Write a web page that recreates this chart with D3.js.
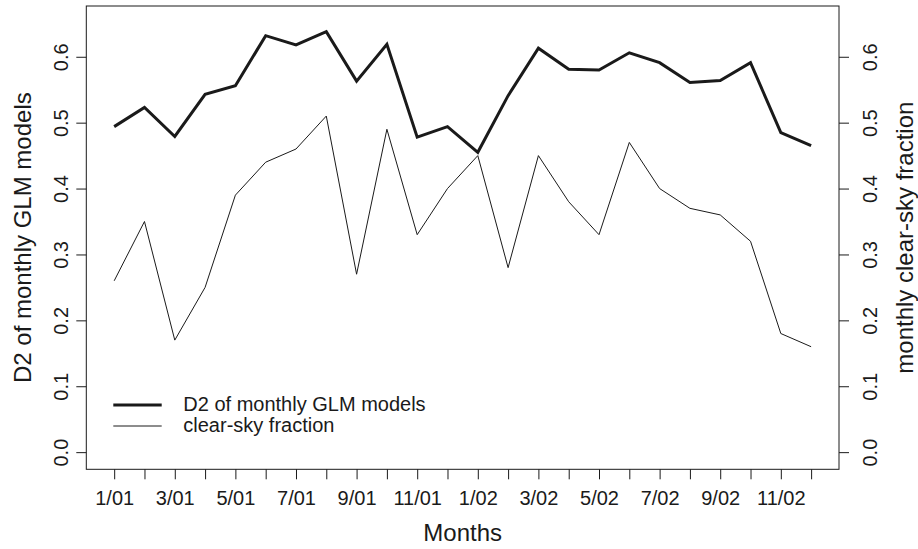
<!DOCTYPE html>
<html>
<head>
<meta charset="utf-8">
<script src="https://cdn.jsdelivr.net/npm/d3@7"></script>
<style>
  html, body { margin: 0; padding: 0; background: #fff; }
  svg { display: block; font-family: "Liberation Sans", Arial, Helvetica, sans-serif; }
</style>
</head>
<body>
<svg id="chart" width="918" height="549"></svg>
<script>
// Monthly series, Jan 2001 – Dec 2002
const months = ["1/01","2/01","3/01","4/01","5/01","6/01","7/01","8/01","9/01","10/01","11/01","12/01",
                "1/02","2/02","3/02","4/02","5/02","6/02","7/02","8/02","9/02","10/02","11/02","12/02"];
const d2Values = [0.494,0.523,0.479,0.543,0.556,0.632,0.618,0.638,0.563,0.619,0.478,0.494,
                  0.455,0.541,0.613,0.581,0.580,0.606,0.591,0.561,0.564,0.591,0.485,0.465];
const clearSky = [0.26,0.35,0.17,0.25,0.39,0.44,0.46,0.51,0.27,0.49,0.33,0.40,
                  0.45,0.28,0.45,0.38,0.33,0.47,0.40,0.37,0.36,0.32,0.18,0.16];
const yTicks = [0, 0.1, 0.2, 0.3, 0.4, 0.5, 0.6];
const seriesNames = ["D2 of monthly GLM models", "clear-sky fraction"];

const ink = "#1a1a1a";
const svg = d3.select("#chart");

// plot region
const box = { left: 86.3, right: 839, top: 6, bottom: 469.3 };

// x: month index 1..24 with a 4% pad on either side
const n = months.length;
const pad = (n - 1) * 0.04;
const x = d3.scaleLinear().domain([1 - pad, n + pad]).range([box.left, box.right]);

// y: both axes share the 0 – 0.65 range, padded by 4%
const yLo = 0, yHi = 0.651, yPad = (yHi - yLo) * 0.04;
const y = d3.scaleLinear().domain([yLo - yPad, yHi + yPad]).range([box.bottom, box.top]);

// frame
svg.append("rect")
  .attr("x", box.left).attr("y", box.top)
  .attr("width", box.right - box.left).attr("height", box.bottom - box.top)
  .attr("fill", "none").attr("stroke", ink).attr("stroke-width", 1);

// bottom axis: tick every month, label every other month
const xAxis = d3.axisBottom(x)
  .tickValues(d3.range(1, n + 1))
  .tickFormat((d, i) => (i % 2 === 0 ? months[i] : ""))
  .tickSize(10).tickSizeOuter(0);
const gx = svg.append("g").attr("transform", `translate(0,${box.bottom})`).call(xAxis);
gx.select(".domain").remove();
gx.selectAll(".tick line").attr("stroke", ink);
gx.selectAll(".tick text")
  .attr("y", null).attr("dy", null)
  .attr("transform", "translate(0,35.7)")
  .attr("fill", ink).attr("font-size", 20)
  .attr("font-family", "Liberation Sans, Arial, sans-serif");

// left axis
const yFmt = d3.format(".1f");
const yAxisL = d3.axisLeft(y).tickValues(yTicks).tickFormat(yFmt).tickSize(10).tickSizeOuter(0);
const gl = svg.append("g").attr("transform", `translate(${box.left},0)`).call(yAxisL);
gl.select(".domain").remove();
gl.selectAll(".tick line").attr("stroke", ink);
gl.selectAll(".tick text")
  .attr("x", null).attr("dy", null)
  .attr("transform", "translate(-18,0) rotate(-90)")
  .attr("text-anchor", "middle")
  .attr("fill", ink).attr("font-size", 20)
  .attr("font-family", "Liberation Sans, Arial, sans-serif");

// right axis (clear-sky fraction, same scale)
const yAxisR = d3.axisRight(y).tickValues(yTicks).tickFormat(yFmt).tickSize(10).tickSizeOuter(0);
const gr = svg.append("g").attr("transform", `translate(${box.right},0)`).call(yAxisR);
gr.select(".domain").remove();
gr.selectAll(".tick line").attr("stroke", ink);
gr.selectAll(".tick text")
  .attr("x", null).attr("dy", null)
  .attr("transform", "translate(37.7,0) rotate(-90)")
  .attr("text-anchor", "middle")
  .attr("fill", ink).attr("font-size", 20)
  .attr("font-family", "Liberation Sans, Arial, sans-serif");

// axis titles
const cx = (box.left + box.right) / 2, cy = (box.top + box.bottom) / 2;
svg.append("text")
  .attr("transform", `translate(${cx},541)`)
  .attr("text-anchor", "middle").attr("font-size", 24).attr("fill", ink)
  .text("Months");
svg.append("text")
  .attr("transform", `translate(30.7,${cy}) rotate(-90)`)
  .attr("text-anchor", "middle").attr("font-size", 24).attr("fill", ink)
  .text("D2 of monthly GLM models");
svg.append("text")
  .attr("transform", `translate(913,${cy}) rotate(-90)`)
  .attr("text-anchor", "middle").attr("font-size", 24).attr("fill", ink)
  .text("monthly clear-sky fraction");

// series lines
const line = d3.line().x((d, i) => x(i + 1)).y(d => y(d));
svg.append("path").datum(clearSky)
  .attr("d", line).attr("fill", "none").attr("stroke", ink)
  .attr("stroke-width", 1).attr("stroke-linejoin", "miter");
svg.append("path").datum(d2Values)
  .attr("d", line).attr("fill", "none").attr("stroke", ink)
  .attr("stroke-width", 3).attr("stroke-linejoin", "miter");

// legend
const legend = svg.append("g");
const legendRows = [
  { name: seriesNames[0], width: 3, lineY: 405, textY: 411 },
  { name: seriesNames[1], width: 1, lineY: 426, textY: 432 }
];
legendRows.forEach(r => {
  legend.append("line")
    .attr("x1", 113.3).attr("x2", 161.7).attr("y1", r.lineY).attr("y2", r.lineY)
    .attr("stroke", ink).attr("stroke-width", r.width);
  legend.append("text")
    .attr("x", 183.3).attr("y", r.textY)
    .attr("font-size", 20).attr("fill", ink)
    .text(r.name);
});
</script>
</body>
</html>
